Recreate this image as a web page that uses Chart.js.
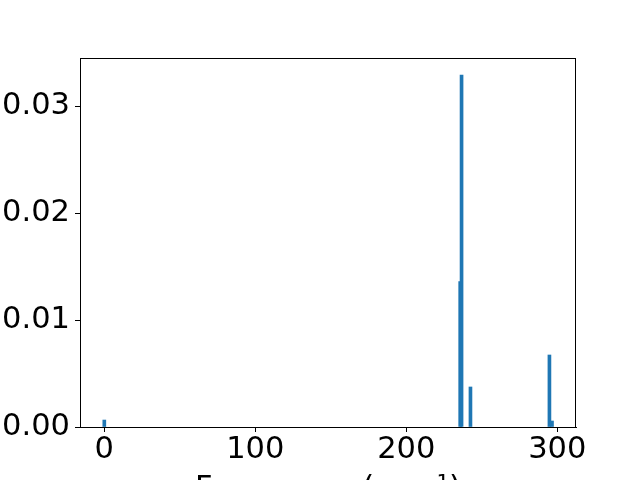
<!DOCTYPE html>
<html>
<head>
<meta charset="utf-8">
<script src="https://cdn.jsdelivr.net/npm/chart.js@4/dist/chart.umd.min.js"></script>
<style>
  body { margin: 0; background: #fff; }
  canvas { display: block; }
</style>
</head>
<body>
<canvas id="myChart" width="640" height="480"></canvas>
<script>
// peak positions (cm^-1) and their intensities
const peakFreqs = [0, 235.7, 236.6, 242.5, 294.8, 296.5];
const peakIntensity = [0.00065, 0.0136, 0.0329, 0.00374, 0.00673, 0.00056];

const xTicks = [0, 100, 200, 300];
const yTicks = [0, 0.01, 0.02, 0.03];
const xLabel = 'Frequency (cm⁻¹)';

const tickFont = { family: 'DejaVu Sans', size: 30.5 };

// matplotlib style box round the axes
const framePlugin = {
    id: 'frame',
    afterDatasetsDraw(chart) {
        const { ctx, chartArea } = chart;
        ctx.save();
        ctx.strokeStyle = '#000';
        ctx.lineWidth = 1;
        ctx.strokeRect(chartArea.left + 0.5, chartArea.top + 0.5,
            chartArea.right - chartArea.left - 1, chartArea.bottom - chartArea.top);
        ctx.restore();
    }
};

const points = peakFreqs.map((f, i) => ({ x: f, y: peakIntensity[i] }));

const ctx = document.getElementById('myChart').getContext('2d');
new Chart(ctx, {
    type: 'bar',
    data: {
        datasets: [{
            data: points,
            backgroundColor: '#1f77b4',
            borderWidth: 0,
            barThickness: 3
        }]
    },
    options: {
        responsive: false,
        animation: false,
        layout: { padding: { top: 58, right: 64, left: 0, bottom: 0 } },
        plugins: {
            legend: { display: false },
            tooltip: { enabled: false }
        },
        scales: {
            x: {
                type: 'linear',
                offset: false,
                min: -16.1,
                max: 312.4,
                afterBuildTicks: scale => { scale.ticks = xTicks.map(v => ({ value: v })); },
                afterFit: scale => { scale.height = 53; },
                grid: { offset: false, drawOnChartArea: false, color: '#000', tickLength: 5, lineWidth: 1 },
                border: { display: true, color: '#000', width: 1 },
                ticks: {
                    color: '#000',
                    font: tickFont,
                    padding: 0,
                    maxRotation: 0,
                    callback: v => String(v)
                },
                title: {
                    display: true,
                    text: xLabel,
                    color: '#000',
                    font: tickFont,
                    padding: { top: 0, bottom: -27 }
                }
            },
            y: {
                min: 0,
                max: 0.03449,
                afterBuildTicks: scale => { scale.ticks = yTicks.map(v => ({ value: v })); },
                afterFit: scale => { scale.width = 80; },
                grid: { drawOnChartArea: false, color: '#000', tickLength: 5, lineWidth: 1 },
                border: { display: true, color: '#000', width: 1 },
                ticks: {
                    color: '#000',
                    font: tickFont,
                    padding: 5,
                    callback: v => v.toFixed(2)
                }
            }
        }
    },
    plugins: [framePlugin]
});
</script>
</body>
</html>
